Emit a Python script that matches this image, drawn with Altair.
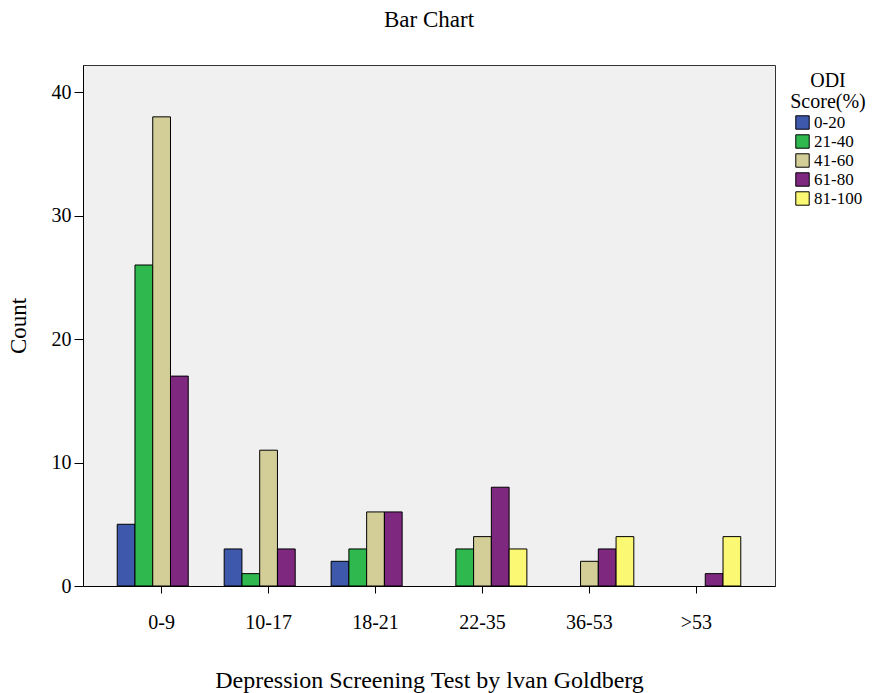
import altair as alt
import pandas as pd

categories = ["0-9", "10-17", "18-21", "22-35", "36-53", ">53"]
groups = ["0-20", "21-40", "41-60", "61-80", "81-100"]
g_0_20 = [5, 3, 2, 0, 0, 0]
g_21_40 = [26, 1, 3, 3, 0, 0]
g_41_60 = [38, 11, 6, 4, 2, 0]
g_61_80 = [17, 3, 6, 8, 3, 1]
g_81_100 = [0, 0, 0, 3, 4, 4]
colors = ["#3E58AC", "#2EB84E", "#D3CE97", "#7E2880", "#FBF873"]

series = [g_0_20, g_21_40, g_41_60, g_61_80, g_81_100]
rows = []
for g, vals in zip(groups, series):
    for c, v in zip(categories, vals):
        if v > 0:
            rows.append({"cat": c, "grp": g, "count": v})
df = pd.DataFrame(rows)

FONT = "Liberation Serif"

chart = alt.Chart(df).mark_bar(stroke="black", strokeWidth=1).encode(
    x=alt.X("cat:N", sort=categories,
            scale=alt.Scale(domain=categories, paddingInner=0.17, paddingOuter=0.32),
            axis=alt.Axis(title="Depression Screening Test by lvan Goldberg", labelAngle=0,
                          labelFontSize=20, titleFontSize=24, labelPadding=19, titlePadding=36,
                          tickSize=7, tickColor="black", domainColor="black",
                          labelColor="black", titleColor="black", titleFontWeight="normal",
                          labelFont=FONT, titleFont=FONT)),
    xOffset=alt.XOffset("grp:N", scale=alt.Scale(domain=groups, paddingInner=0, paddingOuter=0)),
    y=alt.Y("count:Q", scale=alt.Scale(domain=[0, 42.2], nice=False),
            axis=alt.Axis(title="Count", values=[0, 10, 20, 30, 40], grid=False,
                          labelFontSize=20, titleFontSize=23, tickSize=9, labelPadding=3,
                          titlePadding=21, tickColor="black", domainColor="black",
                          labelColor="black", titleColor="black", titleFontWeight="normal",
                          labelFont=FONT, titleFont=FONT)),
    color=alt.Color("grp:N", scale=alt.Scale(domain=groups, range=colors),
                    legend=alt.Legend(title=["ODI", "Score(%)"], orient="none",
                                      legendX=707, legendY=6,
                                      titleFontSize=20, labelFontSize=17,
                                      titleFont=FONT, labelFont=FONT,
                                      titleFontWeight="normal", titleColor="black",
                                      labelColor="black", titleAlign="center",
                                      titleAnchor="middle", titleLineHeight=21,
                                      symbolType="square", symbolSize=180,
                                      symbolStrokeColor="black", symbolStrokeWidth=1,
                                      rowPadding=0, titlePadding=2, labelOffset=3)),
).properties(
    width=692, height=521,
    title=alt.TitleParams("Bar Chart", fontSize=23, font=FONT, fontWeight="normal",
                          color="black", anchor="middle", offset=33),
    autosize=alt.AutoSizeParams(type="none"),
    padding={"left": 83, "top": 65, "right": 116, "bottom": 107},
    background="white",
).configure(
    font=FONT
).configure_view(
    fill="#F0F0F0", stroke="#333333", strokeWidth=1
)

chart.save("out.html", embed_options={"renderer": "svg", "actions": False})
